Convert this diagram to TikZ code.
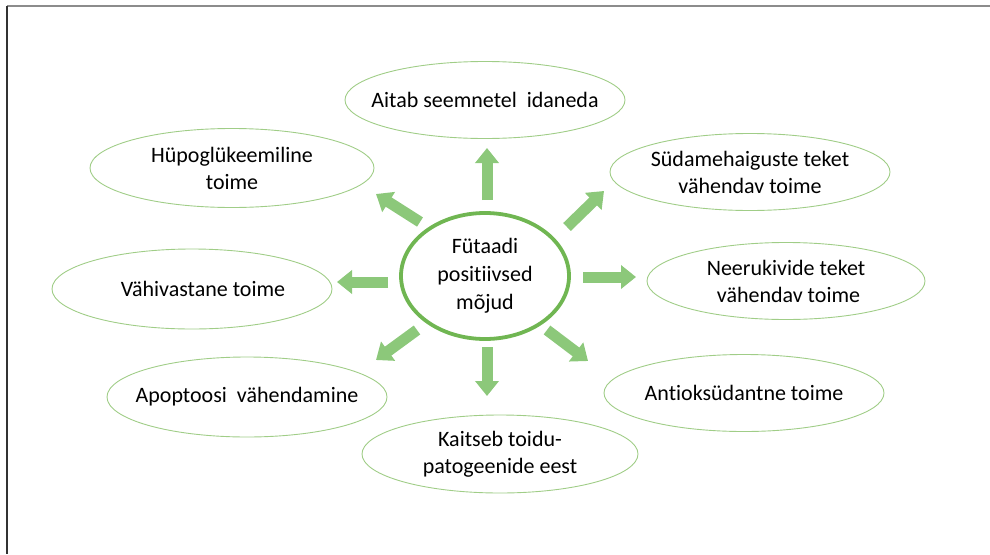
\documentclass[tikz,border=0pt]{standalone}
\usepackage{fontspec}
\setmainfont{Carlito}[Ligatures={NoCommon}]
\usetikzlibrary{shapes.geometric,arrows.meta}
\definecolor{ringgreen}{RGB}{112,182,82}
\definecolor{thingreen}{RGB}{160,205,135}
\definecolor{arrowgreen}{RGB}{140,200,122}
\definecolor{topline}{RGB}{140,140,140}
\definecolor{leftline}{RGB}{50,50,50}
\tikzset{
  bubble/.style={ellipse, draw=thingreen, line width=0.9pt,
    inner xsep=-60pt, inner ysep=-20pt,
    minimum width=280pt, minimum height=77pt, align=center,
    font=\fontsize{22}{27}\selectfont},
  hub/.style={ellipse, draw=ringgreen, line width=3.8pt,
    inner xsep=-20pt, inner ysep=-20pt,
    minimum width=168pt, minimum height=126pt, align=center,
    font=\fontsize{22}{28}\selectfont},
  blockarrow/.style={line width=11pt, draw=arrowgreen,
    -{Triangle[width=23pt,length=15pt]}}
}
\begin{document}
\begin{tikzpicture}[x=1pt,y=-1pt]
\useasboundingbox (0,0) rectangle (990,554);
\draw[topline, line width=1.5pt] (7,6) -- (990,6);
\draw[leftline, line width=1.5pt] (7,6) -- (7,554);

\node[hub] (c) at (485,276) {Fütaadi\\positiivsed\\mõjud};
\node[bubble] (n) at (485,100) {Aitab seemnetel\ \ idaneda};
\node[bubble, minimum width=284pt, minimum height=79pt] (nw) at (232,168) {Hüpoglükeemiline\\toime};
\node[bubble] (ne) at (750,172) {Südamehaiguste\ teket\\vähendav toime};
\node[bubble, minimum height=80pt] (w) at (192,289) {\hspace{22pt}Vähivastane toime};
\node[bubble, minimum width=278pt] (e) at (786,281) {Neerukivide teket\\\ vähendav toime};
\node[bubble] (se) at (744,393) {Antioksüdantne toime};
\node[bubble, minimum height=80pt] (sw) at (247,397) {Apoptoosi\ \ vähendamine};
\node[bubble, minimum width=276pt, minimum height=78pt] (s) at (500,454) {Kaitseb toidu-\\patogeenide\ eest};

\coordinate (nA) at (487,200); \coordinate (nB) at (487,148);
\coordinate (sA) at (487,347); \coordinate (sB) at (487,396);
\coordinate (eA) at (583,277); \coordinate (eB) at (636,277);
\coordinate (wA) at (388,282); \coordinate (wB) at (337,282);
\coordinate (nwA) at (420,222); \coordinate (nwB) at (376,194);
\coordinate (neA) at (567,227); \coordinate (neB) at (604,191);
\coordinate (swA) at (417,330); \coordinate (swB) at (376,360);
\coordinate (seA) at (547,330); \coordinate (seB) at (588,361);

\foreach \d in {n,s,e,w,nw,ne,sw,se}
  \draw[blockarrow] (\d A) -- (\d B);
\end{tikzpicture}
\end{document}
